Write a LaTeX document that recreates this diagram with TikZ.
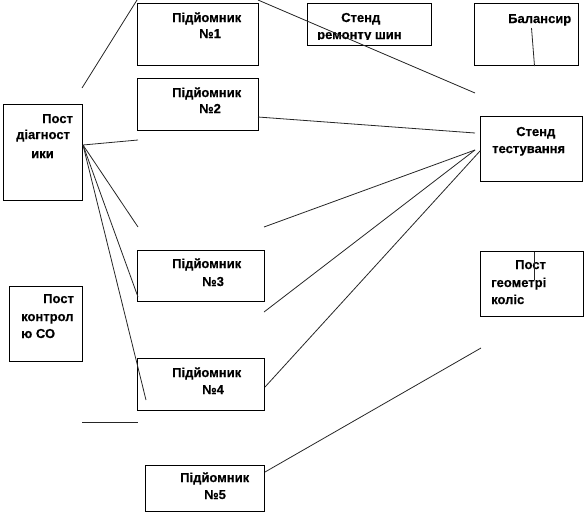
\documentclass[tikz,border=0pt]{standalone}
\usepackage{fontspec}
\setmainfont{Liberation Sans}
\newfontfamily\boxfont[FakeBold=0.4]{Liberation Sans Bold}
\begin{document}
\begin{tikzpicture}[x=1pt,y=-1pt,
  box/.style={draw=black,line width=0.9pt,inner sep=0pt,anchor=north west},
  txt/.style={font=\boxfont\fontsize{13}{15}\selectfont,inner sep=0pt,anchor=base west},
  link/.style={draw=black!85,line width=0.8pt}]
\useasboundingbox (0,0) rectangle (586,515);
% boxes
\node[box,minimum width=121pt,minimum height=62pt] (p1) at (137,3) {};
\node[box,minimum width=121pt,minimum height=52pt] (p2) at (137,78) {};
\node[box,minimum width=124pt,minimum height=42pt] (sr) at (307,3) {};
\node[box,minimum width=104pt,minimum height=62pt] (bal) at (474,3) {};
\node[box,minimum width=102pt,minimum height=65pt] (st) at (480,116) {};
\node[box,minimum width=103pt,minimum height=65pt] (pg) at (480,251) {};
\node[box,minimum width=127pt,minimum height=51pt] (p3) at (137,250) {};
\node[box,minimum width=127pt,minimum height=52pt] (p4) at (137,358) {};
\node[box,minimum width=119pt,minimum height=46pt] (p5) at (145,465) {};
\node[box,minimum width=79pt,minimum height=96pt] (pd) at (3,104) {};
\node[box,minimum width=73pt,minimum height=75pt] (pc) at (9,286) {};
% texts
\node[txt] (p1a) at (172,22) {Підйомник};
\node[txt] (p1b) at (199,38) {№1};
\node[txt] (p2a) at (172,97) {Підйомник};
\node[txt] (p2b) at (199,113) {№2};
\node[txt] (p3a) at (172,268) {Підйомник};
\node[txt] (p3b) at (202,286) {№3};
\node[txt] (p4a) at (172,377) {Підйомник};
\node[txt] (p4b) at (202,394) {№4};
\node[txt] (p5a) at (180,482) {Підйомник};
\node[txt] (p5b) at (204,499) {№5};
\node[txt] (sra) at (341,22) {Стенд};
\begin{scope}
\clip (307,3) rectangle (431,39.5);
\node[txt] (srb) at (317,39) {ремонту шин};
\end{scope}
\node[txt] (bala) at (508,23) {Балансир};
\node[txt] (sta) at (516,136) {Стенд};
\node[txt] (stb) at (492,153) {тестування};
\node[txt] (pga) at (515,269) {Пост};
\node[txt] (pgb) at (491,287) {геометрі};
\node[txt] (pgc) at (491,304) {коліс};
\node[txt] (pda) at (42,123) {Пост};
\node[txt] (pdb) at (16,139) {діагност};
\node[txt] (pdc) at (31,158) {ики};
\node[txt] (pca) at (43,303) {Пост};
\node[txt] (pcb) at (21,321) {контрол};
\node[txt] (pcc) at (21,338) {ю СО};
% connector end points
\coordinate (a1) at (82,88);
\coordinate (a2) at (137,0);
\coordinate (b1) at (258,0);
\coordinate (b2) at (475,93);
\coordinate (c1) at (258,117);
\coordinate (c2) at (475,133);
\coordinate (d0) at (83,145);
\coordinate (d1) at (138,140);
\coordinate (d2) at (138,227);
\coordinate (d3) at (138,297);
\coordinate (d4) at (146,400);
\coordinate (e1) at (82,422);
\coordinate (e2) at (138,422);
\coordinate (s1) at (475,150);
\coordinate (s2) at (480,151);
\coordinate (f1) at (264,227);
\coordinate (f2) at (264,312);
\coordinate (f3) at (265,387);
\coordinate (g1) at (265,472);
\coordinate (g2) at (481,348);
\coordinate (h1) at (531.5,28);
\coordinate (h2) at (534.5,66);
\coordinate (k1) at (534,252);
\coordinate (k2) at (534,280);
% connectors
\draw[link] (a1) -- (a2);
\draw[link] (b1) -- (b2);
\draw[link] (c1) -- (c2);
\draw[link] (d0) -- (d1);
\draw[link] (d0) -- (d2);
\draw[link] (d0) -- (d3);
\draw[link] (d0) -- (d4);
\draw[link] (e1) -- (e2);
\draw[link] (f1) -- (s1);
\draw[link] (f2) -- (s1);
\draw[link] (f3) -- (s2);
\draw[link] (g1) -- (g2);
\draw[link] (h1) -- (h2);
\draw[link] (k1) -- (k2);
\end{tikzpicture}
\end{document}
